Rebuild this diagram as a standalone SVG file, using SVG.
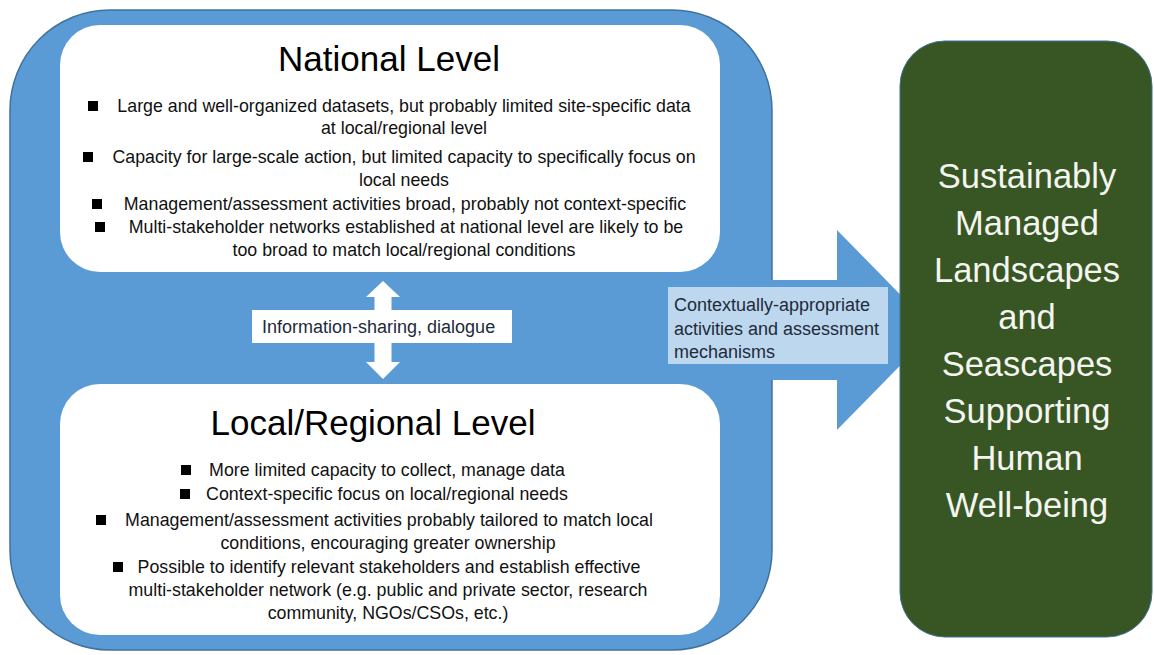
<svg xmlns="http://www.w3.org/2000/svg" width="1154" height="655" viewBox="0 0 1154 655">
  <defs>
    <style>
      .title { font-family: "Liberation Sans", Arial, sans-serif; font-size: 35px; fill: #000; text-anchor: middle; }
      .item { font-family: "Liberation Sans", Arial, sans-serif; font-size: 17.8px; fill: #111; text-anchor: middle; }
      .bullet { fill: #000; }
      .label { font-family: "Liberation Sans", Arial, sans-serif; font-size: 18px; fill: #1e2b3a; }
      .goal { font-family: "Liberation Sans", Arial, sans-serif; font-size: 34.5px; fill: #f4f4f0; text-anchor: middle; }
    </style>
  </defs>
  <rect width="1154" height="655" fill="#ffffff"/>

  <!-- outer container -->
  <g id="container">
    <rect x="10" y="10" width="762" height="640" rx="100" ry="100" fill="#5b9bd5" stroke="#41719c" stroke-width="1.5"/>
  </g>

  <!-- connectors -->
  <g id="connectors">
    <polygon points="760,280 837,280 837,230 935,330 837,430 837,380 760,380" fill="#5b9bd5"/>
    <polygon points="383,281 400,297 391.5,297 391.5,362 400,362 383,379 366,362 374.5,362 374.5,297 366,297" fill="#ffffff"/>
  </g>

  <!-- national level -->
  <g id="national">
    <rect x="60" y="25" width="660" height="247" rx="40" ry="40" fill="#ffffff"/>
    <text class="title" x="389" y="71">National Level</text>
    <rect class="bullet" x="88" y="101" width="10" height="10"/>
    <text class="item" x="404" y="112">Large and well-organized datasets, but probably limited site-specific data</text>
    <text class="item" x="404" y="134">at local/regional level</text>
    <rect class="bullet" x="83" y="152" width="10" height="10"/>
    <text class="item" x="404" y="163">Capacity for large-scale action, but limited capacity to specifically focus on</text>
    <text class="item" x="404" y="186">local needs</text>
    <rect class="bullet" x="92" y="199" width="10" height="10"/>
    <text class="item" x="405" y="210">Management/assessment activities broad, probably not context-specific</text>
    <rect class="bullet" x="95" y="222" width="10" height="10"/>
    <text class="item" x="406" y="233">Multi-stakeholder networks established at national level are likely to be</text>
    <text class="item" x="404" y="256">too broad to match local/regional conditions</text>
  </g>

  <!-- information exchange label -->
  <g id="dialogue">
    <rect x="252" y="310" width="260" height="33" fill="#ffffff"/>
    <text class="label" x="262" y="333" fill="#222">Information-sharing, dialogue</text>
  </g>

  <!-- local / regional level -->
  <g id="local">
    <rect x="60" y="384" width="660" height="251" rx="40" ry="40" fill="#ffffff"/>
    <text class="title" x="373" y="435">Local/Regional Level</text>
    <rect class="bullet" x="181" y="465" width="10" height="10"/>
    <text class="item" x="387" y="476">More limited capacity to collect, manage data</text>
    <rect class="bullet" x="180" y="489" width="10" height="10"/>
    <text class="item" x="387" y="500">Context-specific focus on local/regional needs</text>
    <rect class="bullet" x="96" y="515" width="10" height="10"/>
    <text class="item" x="389" y="526">Management/assessment activities probably tailored to match local</text>
    <text class="item" x="388" y="549">conditions, encouraging greater ownership</text>
    <rect class="bullet" x="113" y="562" width="10" height="10"/>
    <text class="item" x="389" y="573">Possible to identify relevant stakeholders and establish effective</text>
    <text class="item" x="388" y="596">multi-stakeholder network (e.g. public and private sector, research</text>
    <text class="item" x="388" y="619">community, NGOs/CSOs, etc.)</text>
  </g>

  <!-- flow label -->
  <g id="flow-label">
    <rect x="668" y="287" width="220" height="77" fill="#bdd7ee"/>
    <text class="label" x="674" y="311">Contextually-appropriate</text>
    <text class="label" x="674" y="335">activities and assessment</text>
    <text class="label" x="674" y="358">mechanisms</text>
  </g>

  <!-- outcome -->
  <g id="outcome">
    <rect x="900" y="41" width="252" height="596" rx="45" ry="45" fill="#375623" stroke="#41719c" stroke-width="1"/>
    <text class="goal" x="1027" y="188">Sustainably</text>
    <text class="goal" x="1027" y="235">Managed</text>
    <text class="goal" x="1027" y="282">Landscapes</text>
    <text class="goal" x="1027" y="329">and</text>
    <text class="goal" x="1027" y="376">Seascapes</text>
    <text class="goal" x="1027" y="423">Supporting</text>
    <text class="goal" x="1027" y="470">Human</text>
    <text class="goal" x="1027" y="517">Well-being</text>
  </g>
</svg>
